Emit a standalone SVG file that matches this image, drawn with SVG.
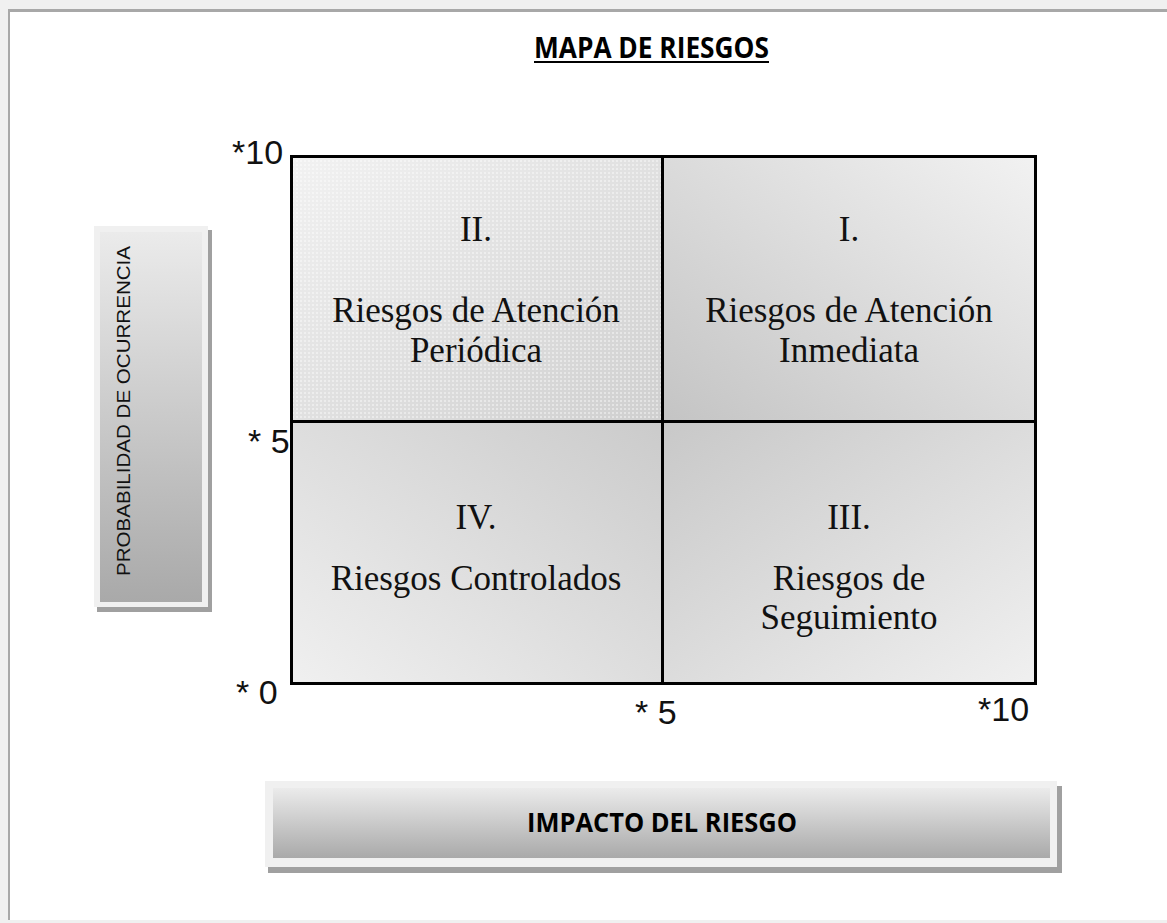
<svg xmlns="http://www.w3.org/2000/svg" width="1167" height="923" viewBox="0 0 1167 923">
<defs>
<style>
.q{font-family:"Liberation Serif","Times New Roman",serif;font-size:35px;fill:#111;text-anchor:middle}
.ax{font-family:"Liberation Sans",Arial,sans-serif;font-size:34px;fill:#111}
.grid{fill:none;stroke:#000;stroke-width:3}
</style>
<linearGradient id="gTL" x1="0" y1="0" x2="1" y2="1"><stop offset="0" stop-color="#f2f2f2"/><stop offset="1" stop-color="#cfcfcf"/></linearGradient>
<linearGradient id="gTR" x1="1" y1="0" x2="0" y2="1"><stop offset="0" stop-color="#f2f2f2"/><stop offset="1" stop-color="#c4c4c4"/></linearGradient>
<linearGradient id="gBL" x1="0" y1="1" x2="1" y2="0"><stop offset="0" stop-color="#f0f0f0"/><stop offset="1" stop-color="#cbcbcb"/></linearGradient>
<linearGradient id="gBR" x1="1" y1="1" x2="0" y2="0"><stop offset="0" stop-color="#f0f0f0"/><stop offset="1" stop-color="#c8c8c8"/></linearGradient>
<linearGradient id="gBar" x1="0" y1="0" x2="0" y2="1"><stop offset="0" stop-color="#ebebeb"/><stop offset="1" stop-color="#a9a9a9"/></linearGradient>
<pattern id="dots" width="4" height="4" patternUnits="userSpaceOnUse"><rect x="0" y="0" width="2" height="2" fill="#ffffff" opacity="0.4"/></pattern>
</defs>
<rect width="1167" height="923" fill="#f0f0f0"/>
<rect x="10" y="12" width="1157" height="908" fill="#ffffff"/>
<rect x="8" y="9" width="2" height="911" fill="#a8a8a8"/>
<rect x="8" y="9" width="1159" height="3" fill="#a8a8a8"/>

<g id="title">
<text x="651.5" y="58" font-family="'Open Sans','Liberation Sans',Arial,sans-serif" font-weight="bold" font-size="28" text-anchor="middle" fill="#000" textLength="235" lengthAdjust="spacingAndGlyphs">MAPA DE RIESGOS</text>
<rect x="534" y="61" width="235" height="2" fill="#000"/>
</g>

<g id="q2">
<rect x="290" y="155" width="372" height="266" fill="url(#gTL)"/>
<rect x="290" y="155" width="372" height="266" fill="url(#dots)"/>
<text class="q" x="476" y="241">II.</text>
<text class="q" x="476" y="322">Riesgos de Atención</text>
<text class="q" x="476" y="362">Periódica</text>
</g>
<g id="q1">
<rect x="662" y="155" width="374" height="266" fill="url(#gTR)"/>
<text class="q" x="849" y="241">I.</text>
<text class="q" x="849" y="322">Riesgos de Atención</text>
<text class="q" x="849" y="362">Inmediata</text>
</g>
<g id="q4">
<rect x="290" y="421" width="372" height="263" fill="url(#gBL)"/>
<text class="q" x="476" y="529">IV.</text>
<text class="q" x="476" y="590">Riesgos Controlados</text>
</g>
<g id="q3">
<rect x="662" y="421" width="374" height="263" fill="url(#gBR)"/>
<text class="q" x="849" y="529">III.</text>
<text class="q" x="849" y="590">Riesgos de</text>
<text class="q" x="849" y="629">Seguimiento</text>
</g>

<g id="connectors">
<rect class="grid" x="291.5" y="156.5" width="744" height="527"/>
<line class="grid" x1="662.5" y1="155" x2="662.5" y2="685"/>
<line class="grid" x1="290" y1="421.5" x2="1037" y2="421.5"/>
</g>

<g id="axis-labels">
<text class="ax" x="232" y="164">*10</text>
<text class="ax" x="248" y="453">* 5</text>
<text class="ax" x="236" y="704">* 0</text>
<text class="ax" x="635" y="724">* 5</text>
<text class="ax" x="978" y="721">*10</text>
</g>

<g id="y-label">
<rect x="97" y="230" width="115" height="382" fill="#a0a0a0"/>
<rect x="94" y="226" width="114" height="381" fill="#f0f0f0"/>
<rect x="100" y="232" width="102" height="370" fill="url(#gBar)"/>
<text transform="translate(130 411) rotate(-90)" font-family="'Liberation Sans',Arial,sans-serif" font-size="19" fill="#111" text-anchor="middle" textLength="330" lengthAdjust="spacingAndGlyphs">PROBABILIDAD  DE  OCURRENCIA</text>
</g>

<g id="x-label">
<rect x="268" y="786" width="794" height="87" fill="#a0a0a0"/>
<rect x="265" y="781" width="792" height="86" fill="#f0f0f0"/>
<rect x="273" y="788" width="777" height="70" fill="url(#gBar)"/>
<text x="662" y="832" font-family="'Open Sans','Liberation Sans',Arial,sans-serif" font-weight="bold" font-size="26" fill="#000" text-anchor="middle" textLength="270" lengthAdjust="spacingAndGlyphs">IMPACTO DEL RIESGO</text>
</g>
</svg>
